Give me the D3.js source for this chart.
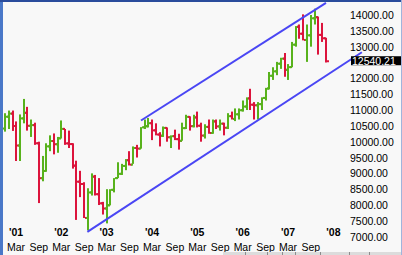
<!DOCTYPE html>
<html>
<head>
<meta charset="utf-8">
<script src="https://cdn.jsdelivr.net/npm/d3@7"></script>
<style>
  html, body { margin: 0; padding: 0; background: #f8f8f8; }
  svg { display: block; }
  text { font-family: "Liberation Sans", Arial, sans-serif; }
</style>
</head>
<body>
<div id="wrapper"></div>
<script>
// monthly bars, Dec 2000 .. Jan 2008
const months = [
  '2000-12', '2001-01', '2001-02', '2001-03', '2001-04', '2001-05', '2001-06', '2001-07', '2001-08', '2001-09', '2001-10', '2001-11', '2001-12',
  '2002-01', '2002-02', '2002-03', '2002-04', '2002-05', '2002-06', '2002-07', '2002-08', '2002-09', '2002-10', '2002-11', '2002-12',
  '2003-01', '2003-02', '2003-03', '2003-04', '2003-05', '2003-06', '2003-07', '2003-08', '2003-09', '2003-10', '2003-11', '2003-12',
  '2004-01', '2004-02', '2004-03', '2004-04', '2004-05', '2004-06', '2004-07', '2004-08', '2004-09', '2004-10', '2004-11', '2004-12',
  '2005-01', '2005-02', '2005-03', '2005-04', '2005-05', '2005-06', '2005-07', '2005-08', '2005-09', '2005-10', '2005-11', '2005-12',
  '2006-01', '2006-02', '2006-03', '2006-04', '2006-05', '2006-06', '2006-07', '2006-08', '2006-09', '2006-10', '2006-11', '2006-12',
  '2007-01', '2007-02', '2007-03', '2007-04', '2007-05', '2007-06', '2007-07', '2007-08', '2007-09', '2007-10', '2007-11', '2007-12',
  '2008-01'
]
const opens = [
  10415, 10790, 10887, 10495, 9879, 10735, 10912, 10502, 10523, 9950, 8848, 9075, 9852,
  10021, 9920, 10106, 10404, 9946, 9925, 9243, 8737, 8664, 7592, 8397, 8896,
  8342, 8054, 7891, 7992, 8480, 8850, 8985, 9234, 9416, 9275, 9801, 9782,
  10454, 10488, 10584, 10358, 10226, 10188, 10435, 10140, 10174, 10080, 10027, 10428,
  10783, 10490, 10766, 10504, 10193, 10467, 10275, 10641, 10482, 10569, 10440, 10806,
  10718, 10865, 10993, 11109, 11367, 11168, 11150, 11185, 11381, 11679, 12081, 12221,
  12463, 12622, 12269, 12354, 13063, 13628, 13409, 13212, 13358, 13896, 13930, 13372,
  13265
]
const highs = [
  10899, 10983, 10983, 10640, 10860, 11350, 11100, 10700, 10600, 10000, 9550, 9950, 10200,
  10260, 10150, 10670, 10400, 10350, 9950, 9400, 9080, 8720, 8530, 9000, 8950,
  8850, 8100, 8500, 8500, 8850, 9350, 9300, 9450, 9700, 9850, 9900, 10460,
  10700, 10750, 10700, 10580, 10300, 10480, 10450, 10200, 10380, 10250, 10600, 10850,
  10800, 10850, 10950, 10600, 10550, 10700, 10700, 10700, 10700, 10600, 10900, 10950,
  11050, 11050, 11300, 11400, 11670, 11250, 11250, 11400, 11700, 12200, 12350, 12520,
  12650, 12800, 12450, 13150, 13650, 13700, 14020, 13700, 14000, 14200, 13950, 13750,
  13280
]
const lows = [
  10318, 10400, 10340, 9390, 9390, 10580, 10350, 10150, 9900, 8062, 8750, 9050, 9700,
  9600, 9650, 10100, 9900, 9800, 9150, 7530, 8250, 7590, 7200, 8300, 8300,
  8000, 7700, 7420, 7990, 8400, 8850, 8950, 9100, 9250, 9300, 9500, 9780,
  10400, 10450, 10050, 10200, 9850, 10150, 10000, 9800, 10050, 9750, 10030, 10400,
  10350, 10450, 10450, 10000, 10100, 10250, 10250, 10400, 10350, 10200, 10400, 10700,
  10650, 10700, 10950, 11000, 11000, 10700, 10700, 11000, 11300, 11650, 11950, 12100,
  12300, 12050, 11950, 12350, 13000, 13250, 13200, 12520, 13000, 13700, 12750, 13150,
  12500
]
const closes = [
  10787, 10887, 10495, 9879, 10735, 10912, 10502, 10523, 9950, 8848, 9075, 9852, 10021,
  9920, 10106, 10404, 9946, 9925, 9243, 8737, 8664, 7592, 8397, 8896, 8342,
  8054, 7891, 7992, 8480, 8850, 8985, 9234, 9416, 9275, 9801, 9782, 10454,
  10488, 10584, 10358, 10226, 10188, 10435, 10140, 10174, 10080, 10027, 10428, 10783,
  10490, 10766, 10504, 10193, 10467, 10275, 10641, 10482, 10569, 10440, 10806, 10718,
  10865, 10993, 11109, 11367, 11168, 11150, 11185, 11381, 11679, 12081, 12221, 12463,
  12622, 12269, 12354, 13063, 13628, 13409, 13212, 13358, 13896, 13930, 13372, 13265,
  12540.21
]

// 12500 sits under the last-price box, so it is not drawn
const yTicks = [7000, 7500, 8000, 8500, 9000, 9500, 10000, 10500, 11000, 11500, 12000, 13000, 13500, 14000]
const yearLabels = ["'01", "'02", "'03", "'04", "'05", "'06", "'07", "'08"]
const lastPrice = 12540.21

// hand-drawn trend channel (date, value)
const upperLine = [['2003-12-03', 10669], ['2008-01-01', 14385]]
const lowerLine = [['2002-09-27', 7154], ['2008-10-16', 12825]]

const parseMonth = d3.timeParse('%Y-%m')
const parseDay = d3.timeParse('%Y-%m-%d')

const dataset = months.map((m, i) => ({
  date: parseMonth(m),
  open: opens[i], high: highs[i], low: lows[i], close: closes[i],
}))

const width = 402
const height = 255

const wrapper = d3.select('#wrapper')
  .append('svg')
  .attr('width', width)
  .attr('height', height)

wrapper.append('rect')
  .attr('width', width).attr('height', height)
  .attr('fill', '#f8f8f8')

// scales
const xScale = d3.scaleTime()
  .domain([new Date(2001, 2, 1), new Date(2007, 2, 1)])
  .range([16, 288])

const yScale = d3.scaleLinear()
  .domain([7000, 14000])
  .range([236.7, 15])

const green = '#58b21c'
const red = '#dc143c'
const colorOf = d => d.close >= d.open ? green : red

// bars
const bars = wrapper.append('g').attr('class', 'bars')
  .selectAll('g')
  .data(dataset)
  .join('g')
  .attr('fill', colorOf)

bars.append('rect')
  .attr('x', d => Math.round(xScale(d.date)) - 1)
  .attr('y', d => yScale(d.high))
  .attr('width', 2)
  .attr('height', d => Math.max(2, yScale(d.low) - yScale(d.high)))

bars.append('rect')
  .attr('x', d => Math.round(xScale(d.date)) - 2)
  .attr('y', d => yScale(d.open) - 1)
  .attr('width', 2)
  .attr('height', 2)

bars.append('rect')
  .attr('x', d => Math.round(xScale(d.date)) + 1)
  .attr('y', d => yScale(d.close) - 1)
  .attr('width', 2)
  .attr('height', 2)

// trend lines
const line = d3.line()
  .x(d => xScale(parseDay(d[0])))
  .y(d => yScale(d[1]))

wrapper.selectAll('.trend')
  .data([upperLine, lowerLine])
  .join('path')
  .attr('class', 'trend')
  .attr('d', line)
  .attr('fill', 'none')
  .attr('stroke', '#4a46f4')
  .attr('stroke-width', 2)

// y axis labels
wrapper.append('g')
  .selectAll('text')
  .data(yTicks)
  .join('text')
  .attr('x', 350)
  .attr('y', d => yScale(d) + 4)
  .attr('font-size', 10.5)
  .attr('fill', '#000')
  .text(d => d3.format('.2f')(d))

// last price box
wrapper.append('rect')
  .attr('x', 351).attr('y', yScale(lastPrice) - 5)
  .attr('width', 50).attr('height', 9)
  .attr('fill', '#000')
wrapper.append('text')
  .attr('x', 352).attr('y', yScale(lastPrice) + 3.5)
  .attr('font-size', 10.5)
  .attr('fill', '#fff')
  .text(d3.format('.2f')(lastPrice))

// x axis: year labels and Mar / Sep labels
const years = d3.range(2001, 2009)
wrapper.append('g')
  .selectAll('text')
  .data(years)
  .join('text')
  .attr('x', d => xScale(new Date(d, 2, 1)))
  .attr('y', 236)
  .attr('text-anchor', 'middle')
  .attr('font-size', 10.5)
  .attr('font-weight', 'bold')
  .text((d, i) => yearLabels[i])

const monthTicks = d3.timeMonth.range(new Date(2001, 2, 1), new Date(2008, 0, 1))
  .filter(d => d.getMonth() === 2 || d.getMonth() === 8)
wrapper.append('g')
  .selectAll('text')
  .data(monthTicks)
  .join('text')
  .attr('x', d => xScale(d))
  .attr('y', 251)
  .attr('text-anchor', 'middle')
  .attr('font-size', 10.5)
  .text(d3.timeFormat('%b'))

// scroll strip along the bottom right
const strip = wrapper.append('g')
strip.append('rect')
  .attr('x', 223).attr('y', 252).attr('width', width - 223).attr('height', 3)
  .attr('fill', '#dcdcdc')
strip.selectAll('line')
  .data([245, 267, 282, 295, 320, 349, 369])
  .join('line')
  .attr('x1', d => d + 0.5).attr('x2', d => d + 0.5)
  .attr('y1', 252).attr('y2', 255)
  .attr('stroke', '#8c8c8c')

// frame
wrapper.append('rect').attr('x', 0).attr('y', 0).attr('width', 3).attr('height', height).attr('fill', '#4a78c8')
wrapper.append('rect').attr('x', 0).attr('y', 0).attr('width', width).attr('height', 2).attr('fill', '#2a4c9c')
wrapper.append('rect').attr('x', width - 1).attr('y', 0).attr('width', 1).attr('height', height).attr('fill', '#9fb4dc')
</script>
</body>
</html>
